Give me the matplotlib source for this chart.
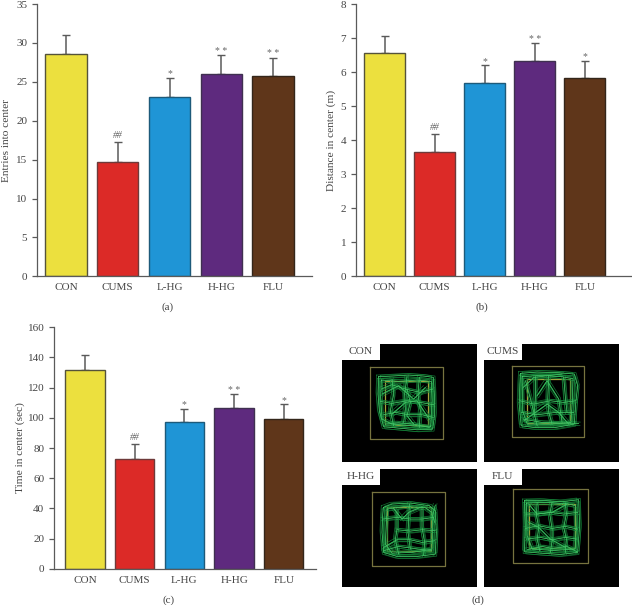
import numpy as np
import matplotlib
matplotlib.use('Agg')
import matplotlib.pyplot as plt

W, H = 632, 605

groups = ['CON', 'CUMS', 'L-HG', 'H-HG', 'FLU']
colors = ['#ece03e', '#dc2a27', '#1f95d6', '#5e2a7e', '#5f361a']
edges = ['#55533a', '#6e3a3a', '#1d5a7a', '#3f3050', '#33261a']

entries = [28.6, 14.7, 23.1, 26.0, 25.7]
entries_err = [2.4, 2.5, 2.4, 2.4, 2.4]
entries_marks = ['', '##', '*', '* *', '* *']

distance = [6.55, 3.64, 5.68, 6.33, 5.82]
distance_err = [0.52, 0.53, 0.52, 0.52, 0.52]
distance_marks = ['', '##', '*', '* *', '*']

time_center = [131.5, 73, 97, 106.5, 99]
time_err = [10, 9.5, 9, 9, 10]
time_marks = ['', '##', '*', '* *', '*']

con_tracks = [
    [(110, 98), (150, 96), (200, 93), (245, 96), (274, 100), (277, 150), (278, 210), (272, 255), (225, 257), (170, 252), (125, 248), (112, 200), (108, 150), (110, 98)],
    [(118, 108), (170, 112), (225, 108), (268, 112), (270, 170), (266, 248), (210, 245), (150, 240), (120, 225), (116, 160), (118, 108)],
    [(118, 135), (150, 122), (190, 135), (235, 145), (272, 135)],
    [(115, 172), (150, 178), (195, 170), (235, 175), (275, 182)],
    [(125, 212), (160, 205), (200, 212), (240, 212), (274, 220)],
    [(130, 240), (170, 236), (215, 240), (262, 250)],
    [(150, 105), (155, 150), (145, 200), (155, 245)],
    [(195, 98), (188, 150), (190, 195), (185, 235)],
    [(232, 100), (228, 150), (235, 200), (232, 250)],
    [(120, 150), (170, 125), (215, 165), (250, 130)],
    [(150, 210), (190, 175), (225, 170), (262, 225)],
    [(195, 135), (205, 175), (195, 215), (215, 240)],
]
cums_tracks = [
    [(110, 88), (160, 84), (220, 86), (272, 90), (282, 125), (276, 180), (272, 240), (215, 250), (150, 250), (112, 245), (106, 180), (108, 120), (110, 88)],
    [(115, 98), (170, 94), (235, 98), (268, 104), (266, 170), (262, 235), (200, 240), (130, 240), (116, 200), (115, 98)],
    [(108, 170), (150, 180), (200, 170), (240, 175), (276, 170)],
    [(112, 205), (160, 212), (215, 205), (270, 205)],
    [(125, 110), (140, 165), (150, 205), (160, 245)],
    [(155, 98), (155, 155), (152, 205)],
    [(195, 95), (192, 165), (195, 205), (205, 240)],
    [(240, 100), (245, 160), (250, 205)],
    [(160, 155), (190, 110), (225, 165), (235, 235)],
    [(120, 230), (155, 205), (190, 180), (225, 205), (255, 240)],
    [(118, 130), (150, 100), (235, 90)],
    [(118, 225), (175, 235), (285, 238)],
]
hhg_tracks = [
    [(124, 115), (150, 105), (205, 102), (262, 110), (280, 125), (283, 190), (280, 255), (225, 262), (165, 262), (125, 250), (120, 190), (122, 140), (124, 115)],
    [(135, 120), (190, 112), (250, 116), (270, 130), (272, 190), (270, 240), (210, 250), (150, 252), (130, 225), (135, 120)],
    [(122, 150), (165, 145), (205, 150), (240, 150), (275, 145)],
    [(165, 182), (205, 186), (240, 182), (280, 185)],
    [(125, 235), (165, 212), (205, 212), (240, 220), (278, 215)],
    [(125, 245), (170, 232), (215, 238), (270, 245)],
    [(165, 125), (165, 180), (160, 212), (170, 255)],
    [(202, 105), (200, 150), (198, 190), (205, 240)],
    [(240, 112), (240, 175), (248, 220), (245, 258)],
    [(155, 118), (180, 150), (200, 130), (235, 115)],
    [(280, 108), (272, 140), (278, 160)],
]
flu_tracks = [
    [(122, 95), (175, 94), (235, 98), (285, 92), (288, 170), (282, 250), (230, 256), (170, 252), (122, 248), (124, 170), (122, 95)],
    [(128, 102), (185, 100), (250, 104), (276, 110), (278, 180), (274, 240), (210, 244), (145, 240), (130, 200), (128, 102)],
    [(126, 135), (160, 135), (200, 130), (240, 135), (282, 130)],
    [(125, 178), (165, 170), (205, 178), (245, 172), (282, 180)],
    [(128, 210), (170, 205), (205, 212), (245, 205), (280, 210)],
    [(130, 242), (175, 232), (205, 238), (250, 232), (280, 248)],
    [(160, 100), (158, 140), (165, 175), (160, 210), (168, 245)],
    [(205, 100), (198, 135), (205, 180), (205, 215), (200, 250)],
    [(245, 102), (248, 135), (240, 175), (248, 210), (245, 250)],
    [(135, 105), (160, 135), (205, 130), (250, 105)],
    [(135, 160), (165, 175), (200, 210), (245, 235)],
]
arena_names = ['CON', 'CUMS', 'H-HG', 'FLU']
arena_tracks = [con_tracks, cums_tracks, hhg_tracks, flu_tracks]
arena_outer = [(85, 70, 302, 284), (85, 66, 302, 280), (91, 70, 308, 290), (88, 61, 314, 281)]
arena_inner = [(128, 110, 258, 243), (128, 106, 260, 236), (136, 114, 268, 245), (135, 104, 273, 236)]

plt.rcParams['font.family'] = ['Liberation Serif', 'DejaVu Serif']
plt.rcParams['font.size'] = 8
text_c = '#444444'
line_c = '#5a5a5a'

fig = plt.figure(figsize=(W / 100, H / 100), dpi=100)


def px_axes(x0, y0, x1, y1):
    # pixel box with y running down from the top of the figure
    return fig.add_axes([x0 / W, 1 - y1 / H, (x1 - x0) / W, (y1 - y0) / H])


def bar_panel(box, c0, step, bw, vals, errs, marks, ymax, yticks, ylabel, ylab_xy, cap_xy, cap):
    ax = px_axes(*box)
    x = np.arange(len(vals))
    ax.bar(x, vals, width=bw, color=colors, edgecolor=edges, linewidth=1.0, zorder=2)
    ax.errorbar(x, vals, yerr=[np.zeros(len(vals)), errs], fmt='none', ecolor=line_c,
                elinewidth=1.1, capsize=2.6, capthick=1.0, zorder=1)
    ax.set_xlim((box[0] - c0) / step, (box[2] - c0) / step)
    ax.set_ylim(0, ymax)
    ax.set_yticks(yticks)
    ax.set_xticks(x, groups)
    ax.tick_params(axis='y', length=3.6, width=0.9, color=line_c, labelcolor=text_c, pad=3.2, labelsize=8)
    ax.tick_params(axis='x', length=0, labelcolor=text_c, pad=5, labelsize=8)
    ax.spines[['top', 'right']].set_visible(False)
    ax.spines[['left', 'bottom']].set_color(line_c)
    ax.spines[['left', 'bottom']].set_linewidth(0.9)
    for xi, v, e, m in zip(x, vals, errs, marks):
        if m:
            style = 'italic' if m == '##' else 'normal'
            off = 1.5 if m == '##' else -0.5
            ax.annotate(m, (xi, v + e), xytext=(0, off), textcoords='offset points', ha='center',
                        va='bottom', fontsize=7, color='#666666', style=style)
    fig.text(ylab_xy[0] / W, 1 - ylab_xy[1] / H, ylabel, rotation=90, ha='center', va='center',
             color=text_c, fontsize=8.2)
    fig.text(cap_xy[0] / W, 1 - cap_xy[1] / H, cap, ha='center', va='center', color=text_c, fontsize=8)
    return ax


bar_panel((36.7, 4, 312, 276.3), 66, 51.75, 0.796, entries, entries_err, entries_marks, 35,
          range(0, 36, 5), 'Entries into center', (7, 140), (168, 307), '(a)')
bar_panel((355.7, 4, 632, 276.3), 384.7, 50, 0.81, distance, distance_err, distance_marks, 8,
          range(0, 9), 'Distance in center (m)', (331, 140), (482, 307), '(b)')
bar_panel((53.7, 327.3, 316, 568.7), 85, 49.7, 0.79, time_center, time_err, time_marks, 160,
          range(0, 161, 20), 'Time in center (sec)', (20, 448), (169, 600), '(c)')

# arena images
boxes = [(342, 344, 477, 461.5), (484, 344, 618.5, 461.5), (342, 469, 477, 586.5), (484, 469, 618.5, 586.5)]
shifts = [(0, 0), (5, -4), (-4, 5), (-6, -5), (4, 6)]
for box, name, tracks, outer, inner in zip(boxes, arena_names, arena_tracks, arena_outer, arena_inner):
    ax = px_axes(*box)
    ax.set_facecolor('black')
    ax.set_xlim(0, 405)
    ax.set_ylim(352, 0)
    ax.set_xticks([])
    ax.set_yticks([])
    for s in ax.spines.values():
        s.set_visible(False)
    for (a, b, c, d), col in ((outer, '#77733f'), (inner, '#a8a43c')):
        ax.plot([a, c, c, a, a], [b, b, d, d, b], color=col, lw=0.9, zorder=1)
    for t in tracks:
        xs, ys = np.array(t).T
        # several passes of the animal along each route, so the lines read as bundles
        for dx, dy in shifts:
            ax.plot(xs + dx, ys + dy, color='#15863a', lw=0.55, alpha=0.8, zorder=2)
        ax.plot(xs, ys, color='#45c868', lw=0.5, zorder=3)
    ax.fill_between([0, 114], 0, 47, color='white', lw=0, zorder=4)
    ax.text(57, 22, name, ha='center', va='center', color=text_c, fontsize=8.2, zorder=5)

fig.text(478 / W, 1 - 600 / H, '(d)', ha='center', va='center', color=text_c, fontsize=8)

fig.savefig('out.png', dpi=100)
